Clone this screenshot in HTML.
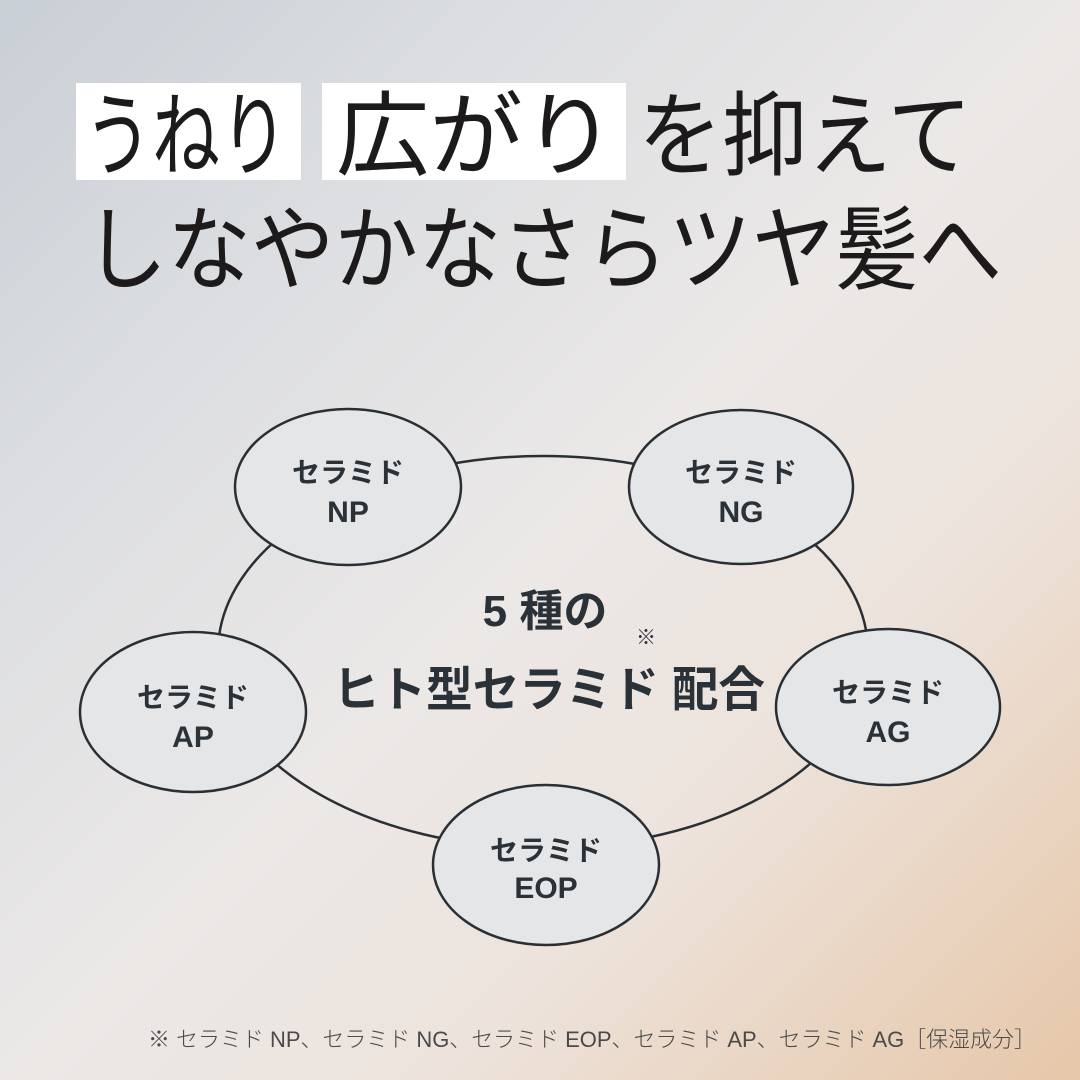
<!DOCTYPE html>
<html><head><meta charset="utf-8"><style>
html,body{margin:0;padding:0}
body{width:1080px;height:1080px;overflow:hidden;position:relative;
background:linear-gradient(135deg,#c9cfd6 0%,#dcdee1 25%,#ebe8e7 50%,#ede3dc 70%,#e6c7a9 100%);}
svg{position:absolute;left:0;top:0}
</style></head><body>
<svg width="1080" height="1080" viewBox="0 0 1080 1080">
<rect x="76" y="83" width="225" height="97" fill="#fff"/>
<rect x="322" y="83" width="304" height="97" fill="#fff"/>
<g font-family="'Liberation Sans','Noto Sans CJK JP',sans-serif" font-weight="400" fill="#1c1a1a" font-size="92">
<text x="84" y="168" textLength="204" lengthAdjust="spacingAndGlyphs">うねり</text>
<text x="336" y="168" textLength="280" lengthAdjust="spacingAndGlyphs">広がり</text>
<text x="638" y="168" textLength="334" lengthAdjust="spacingAndGlyphs">を抑えて</text>
<text x="84" y="282" textLength="918" lengthAdjust="spacingAndGlyphs">しなやかなさらツヤ髪へ</text>
</g>
<g fill="none" stroke="#2a2f33" stroke-width="2.5">
<ellipse cx="543" cy="652" rx="325" ry="196"/>
</g>
<g fill="#e4e6e8" stroke="#2a2f33" stroke-width="2.5">
<ellipse cx="348" cy="487" rx="113" ry="78"/>
<ellipse cx="741" cy="487" rx="112" ry="77"/>
<ellipse cx="193" cy="712" rx="113" ry="80"/>
<ellipse cx="888" cy="707" rx="112" ry="78"/>
<ellipse cx="546" cy="865" rx="113" ry="80"/>
</g>
<g font-family="'Liberation Sans','Noto Sans CJK JP',sans-serif" font-weight="700" fill="#2a3238" text-anchor="middle" font-size="28">
<text x="348" y="482">セラミド</text><text x="348" y="522" font-size="30">NP</text>
<text x="741" y="482">セラミド</text><text x="741" y="522" font-size="30">NG</text>
<text x="193" y="707">セラミド</text><text x="193" y="747" font-size="30">AP</text>
<text x="888" y="702">セラミド</text><text x="888" y="742" font-size="30">AG</text>
<text x="546" y="860">セラミド</text><text x="546" y="898" font-size="30">EOP</text>
<text x="545" y="626" font-size="44">5 種の</text>
<text x="549" y="706" font-size="48" textLength="432" lengthAdjust="spacingAndGlyphs">ヒト型セラミド 配合</text>
<text x="646" y="644" font-size="20" font-weight="400">※</text>
</g>
<text x="148" y="1047" font-family="'Liberation Sans','Noto Sans CJK JP',sans-serif" font-weight="300" font-size="22" fill="#4a4a4a" textLength="888" lengthAdjust="spacingAndGlyphs">※ セラミド NP、セラミド NG、セラミド EOP、セラミド AP、セラミド AG［保湿成分］</text>
</svg>
</body></html>
